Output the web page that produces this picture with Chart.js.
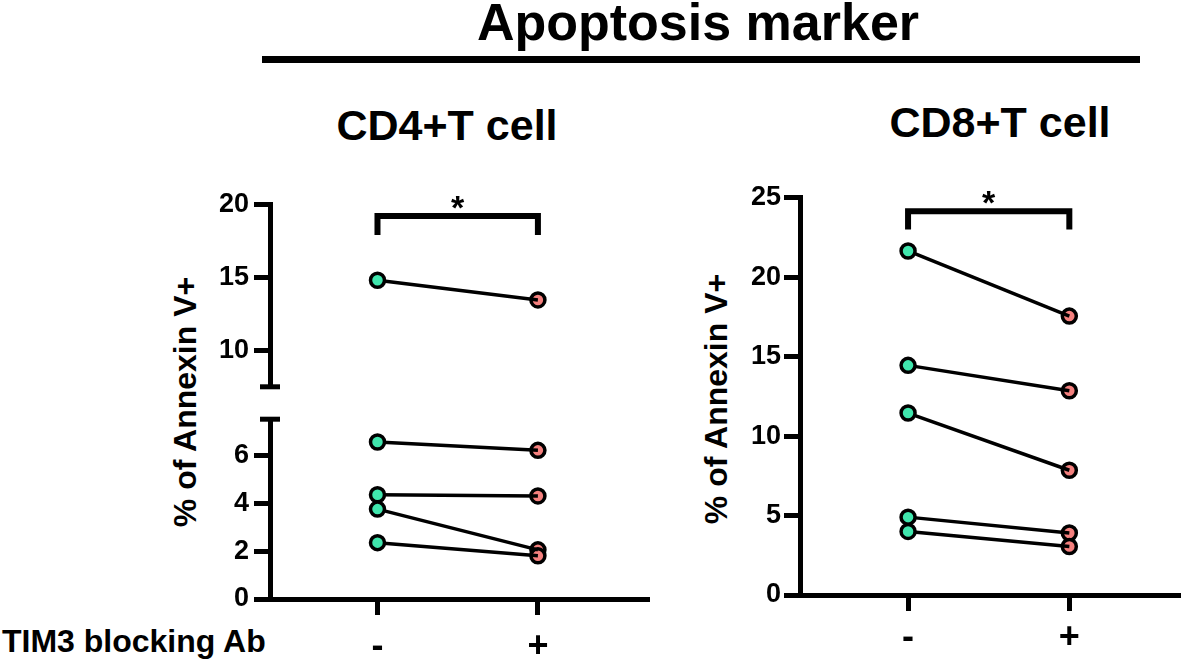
<!DOCTYPE html>
<html>
<head>
<meta charset="utf-8">
<title>Apoptosis marker</title>
<script src="https://cdn.jsdelivr.net/npm/chart.js@4.4.0/dist/chart.umd.min.js"></script>
<style>
  html, body { margin: 0; padding: 0; background: #fff; }
  body {
    width: 1181px; height: 659px; position: relative; overflow: hidden;
    font-family: "Liberation Sans", Arial, sans-serif; font-weight: bold; color: #000;
  }
  .txt { position: absolute; line-height: 1; white-space: nowrap; }
  .rule { position: absolute; background: #000; }
  canvas { position: absolute; display: block; }
</style>
</head>
<body>
<div class="txt" style="left:698px; top:22px; font-size:52px; transform:translate(-50%,-50%)">Apoptosis marker</div>
<div class="rule" style="left:262px; top:56px; width:878px; height:7px"></div>
<div class="txt" style="left:447px; top:125px; font-size:43px; transform:translate(-50%,-50%)">CD4+T cell</div>
<div class="txt" style="left:1000px; top:122px; font-size:43px; transform:translate(-50%,-50%)">CD8+T cell</div>
<div class="txt" style="left:185px; top:402px; font-size:32px; transform:translate(-50%,-50%) rotate(-90deg)">% of Annexin V+</div>
<div class="txt" style="left:716px; top:399px; font-size:32px; transform:translate(-50%,-50%) rotate(-90deg)">% of Annexin V+</div>
<div class="txt" style="left:2px; top:641px; font-size:32px; transform:translate(0,-50%)">TIM3 blocking Ab</div>

<canvas id="cd4Top" width="460" height="238" style="left:200px; top:170px"></canvas>
<canvas id="cd4Low" width="460" height="261.5" style="left:200px; top:397.5px"></canvas>
<canvas id="cd8" width="495" height="489" style="left:700px; top:170px"></canvas>

<script>
// treatment groups on the x axis
const groups = ['-', '+'];

// CD4+ T cells, % Annexin V+ (paired donors)
const cd4Minus = [14.8, 6.55, 4.35, 3.75, 2.35];
const cd4Plus = [13.45, 6.2, 4.3, 2.05, 1.8];

// CD8+ T cells, % Annexin V+
const cd8Minus = [21.65, 14.45, 11.45, 4.9, 4.0];
const cd8Plus = [17.55, 12.85, 7.85, 3.9, 3.05];

// y ticks
const cd4TopTicks = [10, 15, 20];
const cd4LowTicks = [0, 2, 4, 6];
const cd8Ticks = [0, 5, 10, 15, 20, 25];

// broken axis on the CD4 panel
const cd4Break = 7.5;
const cd4Max = 20;
const cd8Max = 25;

const FONT = '"Liberation Sans", Arial, sans-serif';
const GREEN = '#40e6ad';
const RED = '#f4807e';

// significance bracket + axis break caps
const extrasPlugin = {
  id: 'extras',
  afterDraw(chart, args, o) {
    const ctx = chart.ctx;
    const xs = chart.scales.x;
    const ys = chart.scales.y;
    const area = chart.chartArea;
    ctx.save();
    ctx.strokeStyle = '#000';
    ctx.fillStyle = '#000';
    if (o.bracket) {
      const b = o.bracket;
      const x0 = xs.getPixelForValue(0);
      const x1 = xs.getPixelForValue(1);
      const yt = ys.getPixelForValue(b.top);
      const yb = ys.getPixelForValue(b.bottom);
      ctx.lineWidth = 6;
      ctx.lineJoin = 'miter';
      ctx.beginPath();
      ctx.moveTo(x0, yb);
      ctx.lineTo(x0, yt);
      ctx.lineTo(x1, yt);
      ctx.lineTo(x1, yb);
      ctx.stroke();
      ctx.font = 'bold 34px ' + FONT;
      ctx.textAlign = 'center';
      ctx.textBaseline = 'alphabetic';
      ctx.fillText(b.label, (x0 + x1) / 2, yt + 3);
    }
    (o.caps || []).forEach(function (side) {
      const py = side === 'top' ? area.top : area.bottom;
      ctx.lineWidth = 5;
      ctx.beginPath();
      ctx.moveTo(area.left - 10, py);
      ctx.lineTo(area.left + 10, py);
      ctx.stroke();
    });
    ctx.restore();
  }
};

function makePanel(id, minus, plus, p) {
  const lines = minus.map((v, i) => ({
    type: 'line',
    data: [{ x: 0, y: v }, { x: 1, y: plus[i] }],
    borderColor: '#000',
    borderWidth: 3.5,
    pointRadius: 0,
    order: 1
  }));
  const dots = (vals, gx, color, order) => ({
    type: 'line',
    data: vals.map(v => ({ x: gx, y: v })),
    showLine: false,
    pointRadius: 7,
    pointBorderWidth: 3.5,
    pointBorderColor: '#000',
    pointBackgroundColor: color,
    order: order
  });

  return new Chart(document.getElementById(id), {
    type: 'line',
    data: {
      datasets: [dots(minus, 0, GREEN, 0)].concat(lines, [dots(plus, 1, RED, 2)])
    },
    options: {
      responsive: false,
      animation: false,
      clip: false,
      layout: { padding: p.padding },
      plugins: {
        legend: { display: false },
        tooltip: { enabled: false },
        extras: { bracket: p.bracket, caps: p.caps }
      },
      scales: {
        x: {
          type: 'linear',
          display: p.showX,
          min: -0.67,
          max: 1.68,
          afterBuildTicks: s => { s.ticks = groups.map((g, i) => ({ value: i })); },
          afterFit: s => { s.height = p.xHeight; },
          border: { display: true, color: '#000', width: 5 },
          grid: { drawOnChartArea: false, color: '#000', lineWidth: 5, tickLength: 16 },
          ticks: {
            color: '#000',
            padding: p.xPad,
            maxRotation: 0,
            font: { family: FONT, size: 36, weight: 'bold' },
            callback: v => groups[v]
          }
        },
        y: {
          min: p.yMin,
          max: p.yMax,
          afterBuildTicks: s => { s.ticks = p.yTicks.map(v => ({ value: v })); },
          afterFit: s => { s.width = p.yWidth; },
          border: { display: true, color: '#000', width: 5 },
          grid: { drawOnChartArea: false, color: '#000', lineWidth: 5, tickLength: 16 },
          ticks: {
            color: '#000',
            padding: p.yPad,
            font: { family: FONT, size: 27, weight: 'bold' }
          }
        }
      }
    },
    plugins: [extrasPlugin]
  });
}

// CD4: split pairs across the axis break
const cd4Hi = cd4Minus.map((v, i) => i).filter(i => cd4Minus[i] > cd4Break && cd4Plus[i] > cd4Break);
const cd4Lo = cd4Minus.map((v, i) => i).filter(i => !cd4Hi.includes(i));

makePanel('cd4Top', cd4Hi.map(i => cd4Minus[i]), cd4Hi.map(i => cd4Plus[i]), {
  padding: { top: 34.3, right: 13, bottom: 20.5, left: 0 },
  showX: false, xHeight: 0, xPad: 4,
  yMin: cd4Break, yMax: cd4Max, yTicks: cd4TopTicks, yWidth: 70, yPad: 5,
  bracket: { top: 19.2, bottom: 17.9, label: '*' },
  caps: ['bottom']
});

makePanel('cd4Low', cd4Lo.map(i => cd4Minus[i]), cd4Lo.map(i => cd4Plus[i]), {
  padding: { top: 20, right: 13, bottom: 0, left: 0 },
  showX: true, xHeight: 60, xPad: 10,
  yMin: 0, yMax: cd4Break, yTicks: cd4LowTicks, yWidth: 70, yPad: 5,
  caps: ['top']
});

makePanel('cd8', cd8Minus, cd8Plus, {
  padding: { top: 27.7, right: 16, bottom: 0, left: 0 },
  showX: true, xHeight: 64, xPad: 5,
  yMin: 0, yMax: cd8Max, yTicks: cd8Ticks, yWidth: 100, yPad: 3,
  bracket: { top: 24.15, bottom: 23.0, label: '*' }
});
</script>
</body>
</html>
